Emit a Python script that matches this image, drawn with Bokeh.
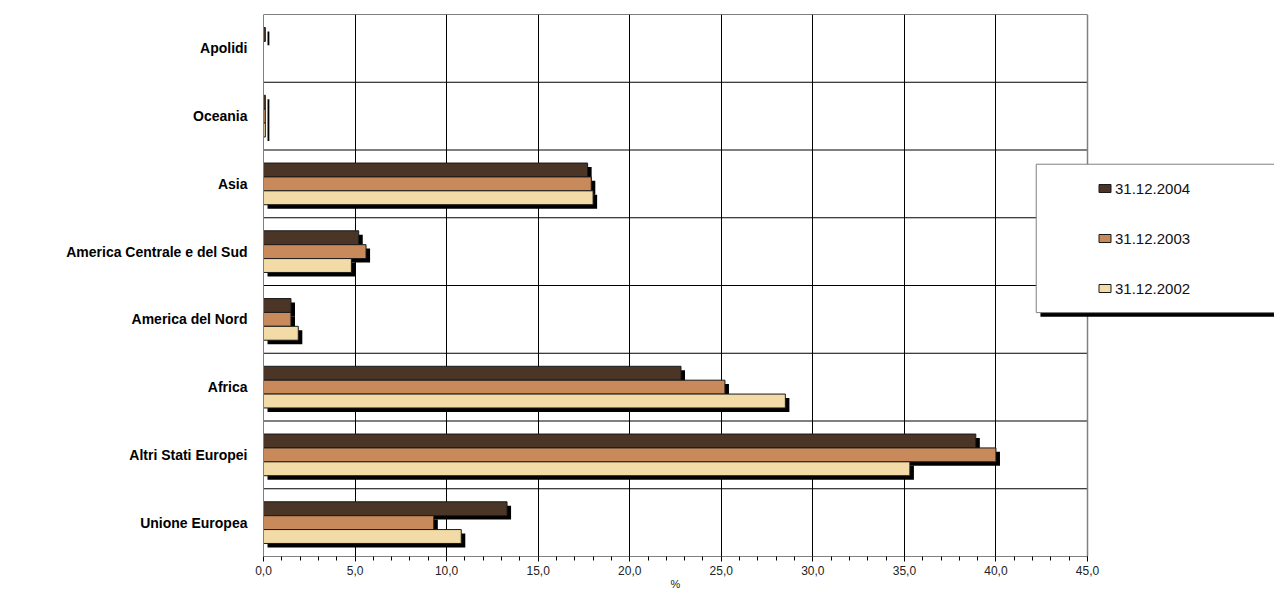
from bokeh.plotting import figure
from bokeh.models import (FactorRange, Range1d, FixedTicker, Legend, LegendItem,
                          ColumnDataSource, LinearAxis)
from bokeh.transform import dodge
from bokeh.embed import file_html
from bokeh.resources import INLINE

# ---- data ----
categories = ["Unione Europea", "Altri Stati Europei", "Africa", "America del Nord",
              "America Centrale e del Sud", "Asia", "Oceania", "Apolidi"]
v2004 = [13.3, 38.9, 22.8, 1.5, 5.2, 17.7, 0.1, 0.1]
v2003 = [9.3, 40.0, 25.2, 1.5, 5.6, 17.9, 0.1, 0.0]
v2002 = [10.8, 35.3, 28.5, 1.9, 4.8, 18.0, 0.1, 0.0]
series_labels = ["31.12.2004", "31.12.2003", "31.12.2002"]
x_ticks = [0, 5, 10, 15, 20, 25, 30, 35, 40, 45]
x_tick_labels = ["0,0", "5,0", "10,0", "15,0", "20,0", "25,0", "30,0", "35,0", "40,0", "45,0"]
x_title = "%"

# ---- layout constants ----
W, H = 1274, 592
LEFT, TOP, BOTTOM = 263, 14, 31
frame_w = W - LEFT
px_per_unit = 824 / 45.0
x_end = frame_w / px_per_unit
x_max = x_ticks[-1]

FONT = "Liberation Sans"
colors = ["#4a3526", "#c88a5a", "#f2dba6"]
offsets = [0.205, 0.0, -0.205]
bar_h = 0.205

src = ColumnDataSource(dict(cat=categories, v2004=v2004, v2003=v2003, v2002=v2002))

p = figure(width=W, height=H, output_backend="svg", toolbar_location=None,
           y_range=FactorRange(factors=categories, range_padding=0),
           x_range=Range1d(0, x_end),
           min_border_left=LEFT, min_border_right=0, min_border_top=TOP, min_border_bottom=BOTTOM)
p.outline_line_color = None
p.background_fill_color = "white"
p.border_fill_color = "white"

# x axis with value ticks
ax = p.xaxis[0]
ax.bounds = (0, x_max)
ax.ticker = FixedTicker(ticks=x_ticks, minor_ticks=list(range(0, x_max + 1)))
ax.major_label_overrides = {t: l for t, l in zip(x_ticks, x_tick_labels)}
ax.axis_line_color = "#808080"
ax.major_tick_line_color = "black"
ax.minor_tick_line_color = "black"
ax.major_tick_out = 5
ax.major_tick_in = 0
ax.minor_tick_out = 4
ax.minor_tick_in = 0
ax.major_label_standoff = 4
ax.major_label_text_font = FONT
ax.major_label_text_font_size = "12px"
ax.major_label_text_color = "#222222"

# axis title "%" centred under the 0-45 scale
title_axis = LinearAxis(ticker=FixedTicker(ticks=[x_max / 2]),
                        major_label_overrides={x_max / 2: x_title},
                        axis_line_color=None, major_tick_line_color=None,
                        minor_tick_line_color=None, major_tick_out=0, major_tick_in=0,
                        major_label_standoff=0, major_label_text_font=FONT,
                        major_label_text_font_size="11px", major_label_text_color="#222222")
p.add_layout(title_axis, "below")

ay = p.yaxis[0]
ay.axis_line_color = "#808080"
ay.major_tick_out = 0
ay.major_tick_in = 0
ay.minor_tick_out = 0
ay.major_label_standoff = 16
ay.major_label_text_font = FONT
ay.major_label_text_font_size = "14px"
ay.major_label_text_font_style = "bold"
ay.major_label_text_color = "black"

# grids
p.ygrid.visible = False
p.xgrid.ticker = FixedTicker(ticks=x_ticks[1:-1])
p.xgrid.grid_line_color = "black"
p.xgrid.grid_line_width = 1

n = len(categories)
p.segment(x0=[0] * (n - 1), x1=[x_max] * (n - 1), y0=list(range(1, n)), y1=list(range(1, n)),
          line_color="black", line_width=1)
p.segment(x0=[0], x1=[x_max], y0=[n], y1=[n], line_color="black", line_width=1)
p.segment(x0=[x_max], x1=[x_max], y0=[0], y1=[n], line_color="#808080", line_width=1.5)

# bars with drop shadows
renderers = []
fields = ["v2004", "v2003", "v2002"]
for f, off in zip(fields, offsets):
    p.hbar(y=dodge("cat", off - 0.058, range=p.y_range), left=0.22,
           right=dodge(f, 0.22), height=bar_h, source=src,
           fill_color="black", line_color=None)
for f, off, c in zip(fields, offsets, colors):
    r = p.hbar(y=dodge("cat", off, range=p.y_range), left=0, right=f, height=bar_h,
               source=src, fill_color=c, line_color="#1a1a1a", line_width=1)
    renderers.append(r)

# legend frame with shadow
p.quad(left=[42.43], right=[x_end + 1], top=[5.72], bottom=[3.54], fill_color="black", line_color=None)
p.quad(left=[42.2], right=[x_end + 1], top=[5.79], bottom=[3.60], fill_color="white",
       line_color="#808080", line_width=1)

legend = Legend(items=[LegendItem(label=l, renderers=[r]) for l, r in zip(series_labels, renderers)],
                location=(834, 258), orientation="vertical",
                glyph_width=15, glyph_height=10, label_height=20, label_standoff=3,
                spacing=30, padding=0, margin=0,
                border_line_alpha=0, background_fill_alpha=0,
                label_text_font=FONT, label_text_font_size="15px", label_text_color="#111111")
p.add_layout(legend, "center")

open("out.html", "w").write(file_html(p, INLINE))
